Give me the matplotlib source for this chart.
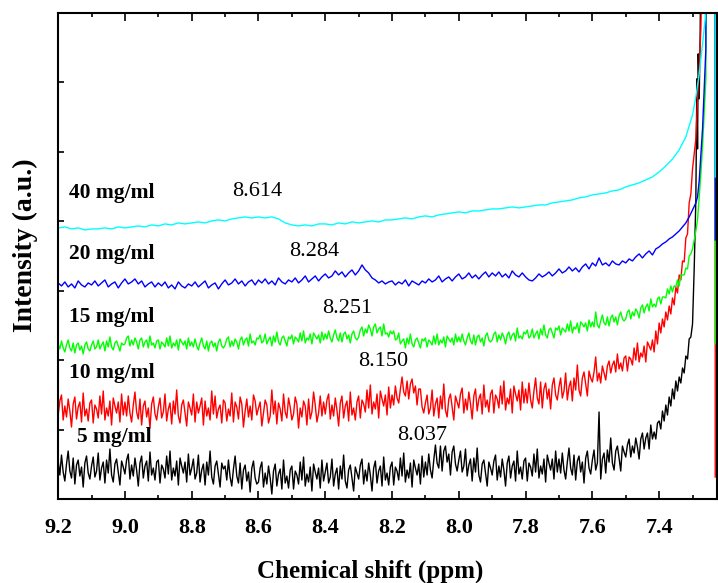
import numpy as np
import matplotlib
matplotlib.use('Agg')
import matplotlib.pyplot as plt
from matplotlib.ticker import MultipleLocator

plt.rcParams['font.family'] = ['Liberation Serif', 'DejaVu Serif']

# spectra (a.u.)
# black / red / green: 9.200 -> 7.300 ppm, step 0.005
black_5 = [38, 24, 44, 27, 18, 35, 48, 28, 21, 41, 15, 34, 39, 23, 32, 12, 36, 43, 26, 20,
           33, 42, 22, 28, 46, 19, 31, 37, 16, 39, 26, 50, 24, 17, 35, 40, 27, 14, 38, 32,
           25, 39, 45, 20, 34, 23, 41, 29, 13, 36, 43, 21, 33, 38, 18, 47, 24, 31, 19, 37,
           39, 16, 34, 30, 21, 43, 25, 48, 19, 31, 23, 38, 14, 41, 33, 26, 37, 17, 45, 24,
           31, 40, 20, 26, 44, 17, 29, 35, 14, 37, 24, 48, 22, 15, 33, 38, 25, 12, 36, 30,
           33, 19, 39, 22, 13, 30, 43, 23, 16, 36, 10, 29, 34, 18, 27, 7, 31, 38, 21, 15,
           17, 31, 37, 12, 26, 15, 33, 21, 5, 28, 35, 13, 25, 30, 10, 39, 16, 23, 11, 29,
           33, 10, 28, 24, 15, 37, 19, 42, 13, 25, 17, 32, 8, 35, 27, 20, 31, 11, 39, 18,
           27, 36, 16, 22, 40, 13, 25, 31, 10, 33, 20, 44, 18, 11, 29, 34, 21, 8, 32, 26,
           20, 34, 40, 15, 29, 18, 36, 24, 8, 31, 38, 16, 28, 33, 13, 42, 19, 26, 14, 32,
           37, 14, 32, 28, 19, 41, 23, 46, 17, 29, 21, 36, 12, 39, 31, 24, 35, 15, 43, 22,
           37, 24, 45, 29, 21, 39, 54, 36, 31, 53, 28, 48, 53, 37, 45, 24, 47, 53, 35, 28,
           39, 48, 27, 33, 50, 23, 34, 40, 18, 41, 27, 51, 24, 17, 35, 39, 26, 13, 37, 31,
           24, 38, 44, 19, 33, 22, 40, 29, 13, 36, 43, 21, 33, 38, 18, 48, 25, 32, 20, 38,
           41, 18, 36, 32, 23, 45, 27, 50, 21, 33, 25, 40, 17, 44, 36, 29, 40, 20, 48, 27,
           40, 26, 46, 29, 20, 37, 51, 31, 24, 44, 19, 38, 43, 27, 37, 16, 41, 48, 31, 25,
           39, 49, 29, 36, 87, 20, 40, 46, 26, 49, 37, 61, 36, 29, 48, 53, 41, 28, 53, 47,
           42, 54, 60, 42, 53, 46, 61, 52, 40, 60, 66, 50, 61, 66, 50, 74, 60, 67, 60, 76,
           78, 70, 88, 78, 94, 84, 102, 93, 110, 100, 118, 108, 122, 116, 131, 126, 143, 140, 160, 162,
           175]
red_10 = [84, 98, 104, 79, 93, 82, 100, 88, 72, 95, 102, 80, 92, 97, 77, 106, 83, 90, 78, 96,
          99, 76, 94, 90, 81, 103, 85, 108, 79, 91, 83, 98, 74, 101, 93, 86, 97, 77, 105, 84,
          97, 83, 103, 86, 77, 94, 107, 87, 80, 100, 74, 93, 98, 82, 91, 71, 95, 102, 85, 79,
          92, 101, 81, 87, 105, 78, 90, 96, 75, 98, 85, 109, 83, 76, 94, 99, 86, 73, 97, 91,
          84, 105, 77, 97, 86, 93, 101, 74, 98, 83, 91, 79, 108, 85, 103, 81, 90, 94, 76, 99,
          96, 78, 90, 83, 106, 77, 97, 92, 80, 102, 95, 72, 88, 100, 82, 93, 79, 104, 98, 84,
          91, 97, 73, 86, 99, 94, 76, 83, 109, 85, 98, 75, 96, 90, 78, 105, 87, 81, 101, 92,
          79, 85, 102, 95, 71, 91, 82, 98, 93, 74, 100, 80, 87, 107, 94, 77, 86, 103, 83, 97,
          85, 99, 105, 80, 94, 83, 101, 89, 73, 96, 103, 81, 93, 98, 78, 107, 84, 91, 79, 97,
          103, 81, 99, 95, 87, 109, 91, 114, 85, 97, 90, 105, 81, 108, 100, 93, 104, 84, 112, 91,
          104, 94, 113, 101, 96, 110, 122, 107, 103, 118, 100, 115, 120, 106, 113, 94, 110, 110, 92, 86,
          96, 104, 85, 91, 109, 83, 95, 101, 81, 103, 90, 115, 89, 82, 100, 105, 92, 79, 103, 97,
          91, 105, 111, 86, 100, 89, 107, 95, 80, 103, 110, 88, 100, 105, 85, 114, 92, 99, 87, 105,
          109, 86, 104, 100, 91, 113, 95, 118, 89, 101, 95, 110, 86, 113, 105, 98, 109, 89, 117, 96,
          110, 96, 116, 99, 91, 108, 121, 101, 95, 117, 91, 110, 116, 100, 110, 90, 114, 121, 104, 99,
          112, 121, 101, 108, 126, 99, 112, 118, 98, 121, 109, 134, 109, 103, 121, 127, 115, 103, 128, 121,
          117, 127, 142, 118, 126, 116, 133, 126, 119, 133, 138, 126, 134, 138, 127, 145, 130, 136, 128, 141,
          143, 128, 142, 140, 134, 151, 139, 156, 137, 146, 142, 153, 137, 157, 153, 149, 159, 147, 168, 155,
          176, 166, 180, 172, 187, 179, 193, 185, 201, 194, 212, 206, 224, 219, 238, 237, 261, 265, 296, 305,
          330]
green_15 = [155, 150, 158, 151, 147, 154, 159, 151, 148, 156, 146, 154, 156, 149, 153, 145, 154, 157, 150, 148,
            154, 158, 150, 152, 159, 150, 154, 157, 148, 158, 152, 162, 152, 149, 156, 158, 153, 148, 156, 154,
            155, 161, 163, 153, 159, 154, 161, 157, 150, 159, 161, 152, 157, 159, 151, 163, 154, 156, 151, 158,
            159, 150, 157, 155, 152, 161, 153, 163, 151, 156, 153, 159, 149, 160, 157, 154, 158, 150, 161, 153,
            157, 152, 160, 153, 149, 156, 161, 153, 150, 158, 148, 156, 158, 152, 156, 148, 157, 160, 153, 151,
            154, 160, 162, 152, 158, 153, 160, 157, 150, 159, 162, 154, 159, 161, 153, 165, 156, 158, 154, 161,
            160, 164, 156, 158, 165, 155, 159, 162, 153, 163, 157, 167, 157, 154, 161, 163, 158, 153, 162, 160,
            164, 155, 162, 160, 157, 166, 158, 168, 156, 161, 159, 165, 155, 166, 163, 160, 164, 156, 167, 159,
            165, 160, 168, 161, 157, 164, 169, 161, 158, 166, 157, 165, 167, 160, 164, 156, 165, 168, 161, 159,
            162, 169, 172, 163, 170, 166, 174, 170, 163, 172, 175, 166, 170, 172, 163, 175, 165, 166, 162, 168,
            165, 168, 159, 160, 166, 155, 158, 160, 151, 161, 155, 165, 155, 152, 159, 161, 156, 151, 160, 158,
            161, 152, 159, 157, 154, 163, 155, 165, 154, 159, 156, 162, 152, 163, 160, 157, 161, 154, 165, 157,
            162, 157, 165, 158, 154, 161, 166, 158, 155, 164, 154, 162, 164, 157, 161, 153, 163, 166, 159, 157,
            159, 165, 167, 157, 164, 159, 166, 162, 155, 164, 167, 159, 164, 166, 158, 171, 161, 163, 160, 167,
            165, 169, 161, 163, 170, 161, 165, 168, 160, 170, 164, 174, 164, 161, 169, 171, 166, 161, 171, 169,
            173, 164, 171, 169, 167, 175, 168, 178, 166, 172, 170, 176, 166, 177, 175, 172, 176, 168, 179, 172,
            177, 172, 187, 174, 171, 178, 184, 176, 174, 182, 173, 181, 184, 177, 182, 174, 183, 187, 180, 178,
            180, 187, 189, 180, 187, 183, 190, 187, 181, 191, 194, 186, 192, 195, 188, 200, 192, 195, 192, 200,
            202, 195, 202, 202, 201, 210, 205, 213, 207, 213, 212, 219, 213, 224, 224, 224, 231, 230, 243, 245,
            250]
# blue: 9.20 -> 7.30 ppm, step 0.01
blue_20 = [216, 213, 217, 212, 215, 211, 218, 214, 212, 216,
           214, 218, 213, 216, 219, 212, 215, 217, 211, 216,
           220, 215, 217, 220, 215, 218, 212, 215, 217, 212,
           216, 213, 217, 211, 214, 210, 217, 213, 211, 215,
           213, 217, 212, 215, 218, 211, 214, 216, 210, 215,
           219, 214, 216, 220, 215, 218, 213, 217, 219, 214,
           219, 216, 220, 215, 218, 214, 221, 217, 215, 219,
           217, 221, 216, 219, 223, 217, 220, 223, 218, 222,
           225, 221, 223, 228, 224, 227, 222, 226, 229, 224,
           228, 234, 229, 226, 221, 219, 216, 218, 215, 217,
           218, 214, 217, 215, 219, 213, 218, 216, 214, 218,
           216, 220, 217, 219, 223, 217, 220, 222, 218, 222,
           225, 220, 222, 226, 221, 224, 220, 224, 227, 222,
           226, 223, 227, 222, 225, 221, 228, 224, 222, 226,
           222, 219, 218, 221, 225, 222, 224, 227, 223, 226,
           230, 226, 228, 232, 228, 231, 227, 232, 235, 230,
           236, 233, 241, 234, 236, 233, 238, 235, 234, 238,
           236, 240, 238, 242, 245, 241, 245, 248, 244, 250,
           252, 255, 257, 260, 262, 265, 268, 272, 276, 282,
           289]
# cyan: 9.20 -> 7.30 ppm, step 0.02
cyan_40 = [271, 272, 270, 271, 269, 270, 270, 271, 270, 272,
           271, 272, 273, 272, 274, 273, 275, 274, 276, 275,
           276, 277, 276, 278, 279, 278, 280, 281, 282, 281,
           282, 281, 282, 280, 276, 274, 273, 274, 273, 275,
           275, 274, 276, 275, 277, 276, 277, 278, 277, 279,
           279, 280, 281, 280, 282, 283, 282, 284, 285, 286,
           287, 286, 288, 288, 289, 290, 290, 291, 292, 291,
           292, 293, 294, 294, 296, 297, 298, 299, 301, 302,
           304, 305, 306, 308, 309, 312, 314, 316, 319, 322,
           327, 333, 340, 349, 362, 384]

# solvent peak at the right edge (goes off scale)
black_tail_ppm = [7.295, 7.29, 7.287, 7.285, 7.283, 7.28, 7.277, 7.272, 7.262, 7.2285]
black_tail = [230, 300, 420, 350, 445, 400, 470, 700, 5000, 5000]
red_tail_ppm = [7.295, 7.29, 7.285, 7.28, 7.275, 7.27, 7.262, 7.2335, 7.232]
red_tail = [345, 360, 400, 430, 470, 560, 5000, 5000, 22]
green_tail_ppm = [7.29, 7.285, 7.28, 7.275, 7.27, 7.26, 7.255, 7.2335, 7.232]
green_tail = [268, 279, 302, 325, 352, 420, 5000, 5000, 155]
blue_tail_ppm = [7.29, 7.285, 7.28, 7.276, 7.27, 7.265, 7.26, 7.255, 7.2335, 7.232]
blue_tail = [296, 302, 318, 339, 370, 410, 450, 5000, 5000, 259]
cyan_tail_ppm = [7.29, 7.28, 7.27, 7.262, 7.255, 7.2335, 7.232]
cyan_tail = [402, 425, 455, 480, 5000, 5000, 322]

conc = ['5 mg/ml', '10 mg/ml', '15 mg/ml', '20 mg/ml', '40 mg/ml']
peaks = ['8.037', '8.150', '8.251', '8.284', '8.614']

fig = plt.figure(figsize=(7.18, 5.83), dpi=100)
ax = fig.add_axes([0.081, 0.144, 0.917, 0.834])

series = [(black_5, black_tail_ppm, black_tail, 'black'),
          (red_10, red_tail_ppm, red_tail, '#ff0000'),
          (green_15, green_tail_ppm, green_tail, '#00ff00'),
          (blue_20, blue_tail_ppm, blue_tail, '#0000ff'),
          (cyan_40, cyan_tail_ppm, cyan_tail, '#00ffff')]
for vals, tp, tv, c in series:
    x = np.linspace(9.2, 7.3, len(vals))
    xx = np.concatenate([x, tp])
    yy = np.concatenate([vals, tv])
    ax.plot(xx, yy, color=c, lw=1.0)

ax.set_xlim(9.2, 7.228)
ax.set_ylim(0, 486)
ax.xaxis.set_major_locator(MultipleLocator(0.2))
ax.xaxis.set_minor_locator(MultipleLocator(0.1))
ax.set_yticks(np.linspace(0, 486, 8))
ax.set_yticklabels([])
ax.tick_params(axis='x', which='both', direction='in', top=True, labelsize=16, pad=14)
ax.tick_params(axis='x', which='major', length=6, width=1.2)
ax.tick_params(axis='x', which='minor', length=3, width=1.2)
ax.tick_params(axis='y', direction='in', length=4, width=1.2)
for lab in ax.get_xticklabels():
    lab.set_fontweight('bold')
for s in ax.spines.values():
    s.set_linewidth(1.5)

ax.set_xlabel('Chemical shift (ppm)', fontsize=18, fontweight='bold')
ax.set_ylabel('Intensity (a.u.)', fontsize=20, fontweight='bold')
ax.xaxis.set_label_coords(0.474, -0.124)
ax.yaxis.set_label_coords(-0.03, 0.523)

# concentration labels
conc_x = [9.145, 9.169, 9.169, 9.169, 9.169]
conc_y = [62, 126, 182, 245, 306]
for t, xp, yp in zip(conc, conc_x, conc_y):
    ax.text(xp, yp, t, fontsize=15.5, fontweight='bold', ha='left', va='center')

peak_x = [8.109, 8.226, 8.333, 8.434, 8.604]
peak_y = [64, 137, 190, 247, 307]
for t, xp, yp in zip(peaks, peak_x, peak_y):
    ax.text(xp, yp, t, fontsize=16, ha='center', va='center')

plt.savefig('out.png', dpi=100)
